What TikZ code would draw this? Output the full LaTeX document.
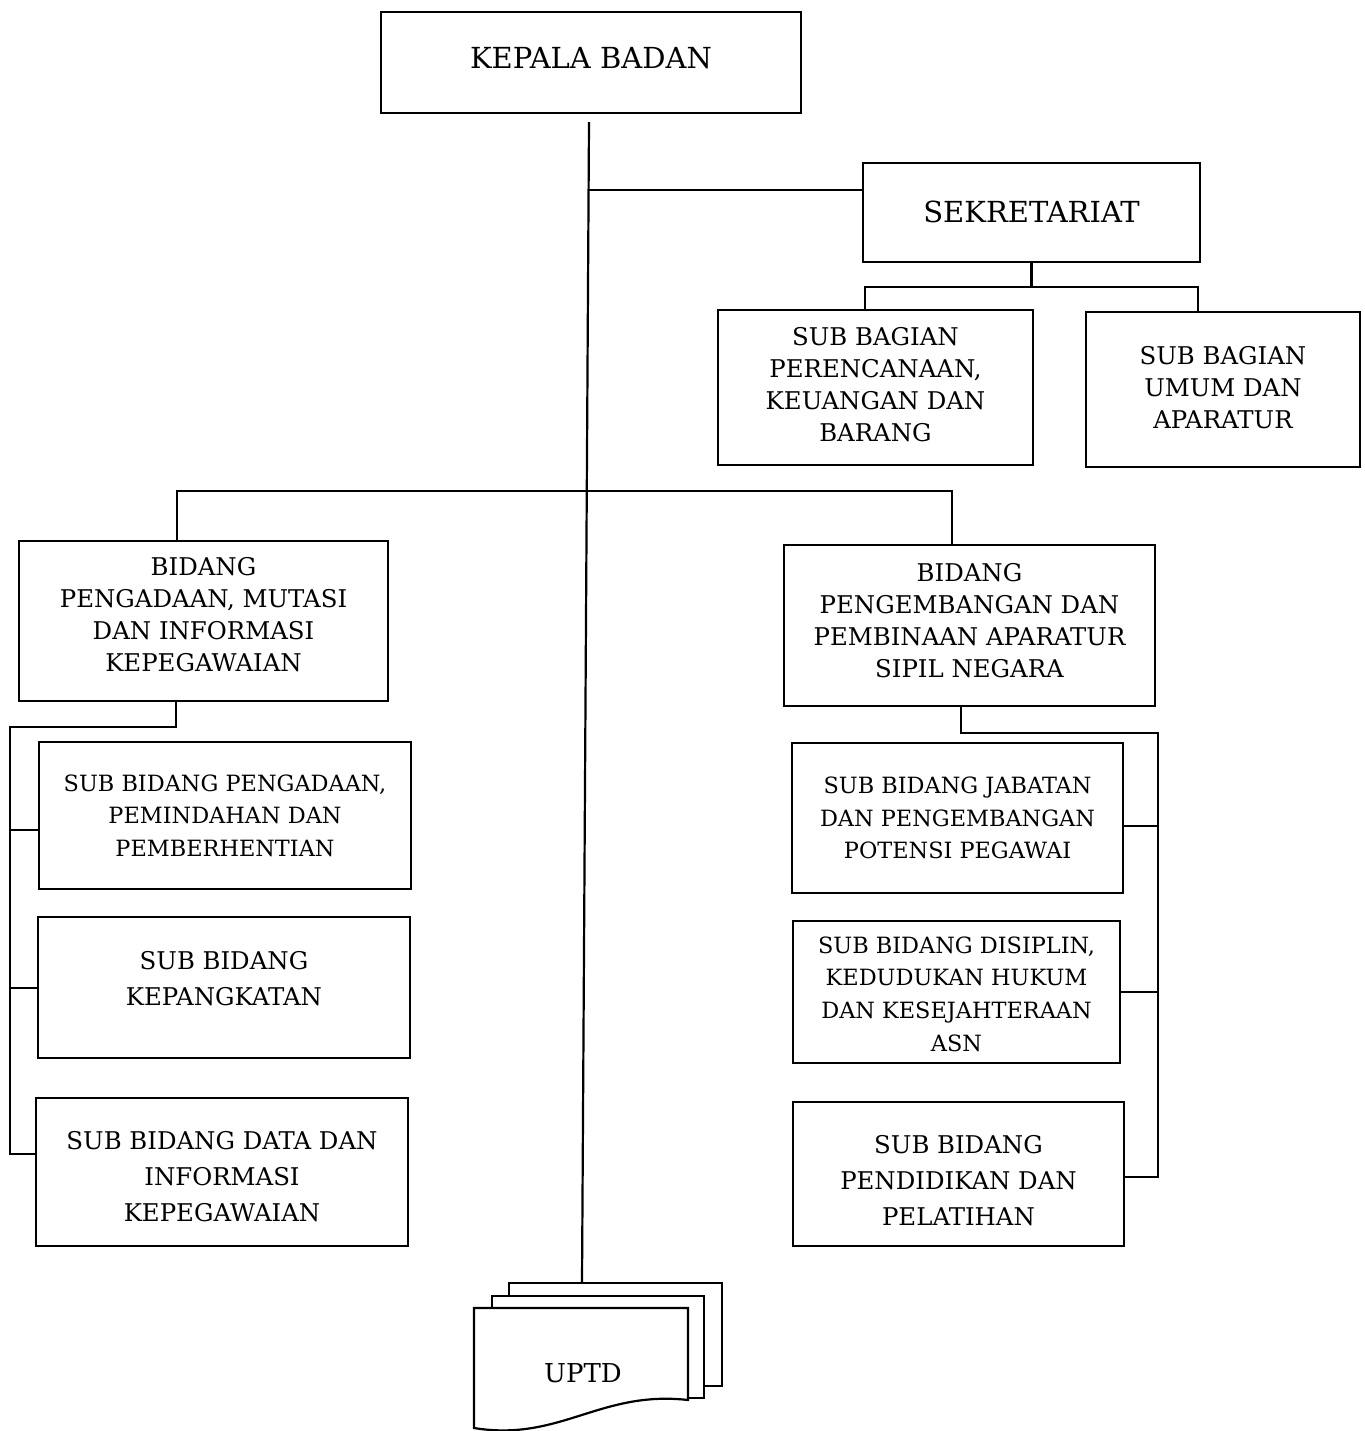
\documentclass[tikz,border=0pt]{standalone}
\usepackage{fontspec}
\setmainfont{DejaVu Serif}
\begin{document}
\begin{tikzpicture}[x=0.5pt,y=-0.5pt,
  line width=1.1pt,
  box/.style={draw, fill=white, inner sep=0pt},
  txt/.style={align=center, inner sep=0pt},
  big/.style={txt,font=\fontsize{14.5}{18}\selectfont},
  mid/.style={txt,font=\fontsize{12.2}{16}\selectfont},
  midw/.style={txt,font=\fontsize{12.2}{18}\selectfont},
  sml/.style={txt,font=\fontsize{11.2}{16.3}\selectfont}]
\useasboundingbox (0,0) rectangle (1365,1431);
% boxes
\node[box,minimum width=210pt,minimum height=50.5pt] (kepala) at (591,62.5) {};
\node[big] (kepalat) at ([yshift=2pt]kepala.center) {KEPALA BADAN};
\node[box,minimum width=168.5pt,minimum height=49.5pt] (sek) at (1031.5,212.5) {};
\node[big] (sekt) at ([yshift=0.5pt]sek.center) {SEKRETARIAT};
\node[box,minimum width=157.5pt,minimum height=77.5pt] (sb1) at (875.5,387.5) {};
\node[mid] (sb1t) at ([yshift=1.5pt]sb1.center) {SUB BAGIAN\\PERENCANAAN,\\KEUANGAN DAN\\BARANG};
\node[box,minimum width=137pt,minimum height=77.5pt] (sb2) at (1223,389.5) {};
\node[mid] (sb2t) at ([yshift=1pt]sb2.center) {SUB BAGIAN\\UMUM DAN\\APARATUR};
\node[box,minimum width=184.5pt,minimum height=80pt] (bid1) at (203.5,621) {};
\node[mid] (bid1t) at ([yshift=3pt]bid1.center) {BIDANG\\PENGADAAN, MUTASI\\DAN INFORMASI\\KEPEGAWAIAN};
\node[box,minimum width=185.5pt,minimum height=80.5pt] (bid2) at (969.5,625.5) {};
\node[mid] (bid2t) at ([yshift=2.5pt]bid2.center) {BIDANG\\PENGEMBANGAN DAN\\PEMBINAAN APARATUR\\SIPIL NEGARA};
\node[box,minimum width=186pt,minimum height=73.5pt] (l1) at (225,815.5) {};
\node[sml] (l1t) at (l1.center) {SUB BIDANG PENGADAAN,\\PEMINDAHAN DAN\\PEMBERHENTIAN};
\node[box,minimum width=186pt,minimum height=70.5pt] (l2) at (224,987.5) {};
\node[midw] (l2t) at ([yshift=4.5pt]l2.center) {SUB BIDANG\\KEPANGKATAN};
\node[box,minimum width=186pt,minimum height=74pt] (l3) at (222,1172) {};
\node[midw] (l3t) at ([yshift=-2.5pt]l3.center) {SUB BIDANG DATA DAN\\INFORMASI\\KEPEGAWAIAN};
\node[box,minimum width=165.5pt,minimum height=75pt] (r1) at (957.5,818) {};
\node[sml] (r1t) at (r1.center) {SUB BIDANG JABATAN\\DAN PENGEMBANGAN\\POTENSI PEGAWAI};
\node[box,minimum width=163.5pt,minimum height=71pt] (r2) at (956.5,992) {};
\node[sml] (r2t) at ([yshift=-1pt]r2.center) {SUB BIDANG DISIPLIN,\\KEDUDUKAN HUKUM\\DAN KESEJAHTERAAN\\ASN};
\node[box,minimum width=165.5pt,minimum height=72pt] (r3) at (958.5,1174) {};
\node[midw] (r3t) at ([yshift=-3.5pt]r3.center) {SUB BIDANG\\PENDIDIKAN DAN\\PELATIHAN};
% UPTD stacked documents
\node[box,minimum width=106.5pt,minimum height=51.5pt] (uptdback) at (615.5,1334.5) {};
\node[box,minimum width=106pt,minimum height=51pt] (uptdmid) at (598,1347) {};
\draw[fill=white] (474,1308) -- (688,1308) -- (688,1400)
  .. controls (600,1390) and (560,1442) .. (474,1428) -- cycle;
\node[txt,font=\fontsize{13}{16}\selectfont] (uptd) at (583,1373) {UPTD};
% main spine
\coordinate (top) at (589,122);
\coordinate (bot) at (582,1283);
\draw (top) -- (bot);
% sekretariat
\coordinate (j1) at (589,190);
\draw (j1) -- (j1 -| sek.west);
\coordinate (s1) at (865,287);
\coordinate (s2) at (1198,287);
\draw (sek.south) -- (sek.south |- s1);
\draw (s1 |- sb1.north) -- (s1) -- (s2) -- (s2 |- sb2.north);
% bidang
\coordinate (b1) at (177,491);
\coordinate (b2) at (952,491);
\draw (b1 |- bid1.north) -- (b1) -- (b2) -- (b2 |- bid2.north);
% left branch
\coordinate (lA) at (176,727);
\coordinate (lB) at (10,727);
\coordinate (lC) at (10,1154);
\coordinate (lS1) at (10,830);
\coordinate (lS2) at (10,988);
\draw (lA |- bid1.south) -- (lA) -- (lB) -- (lC) -- (lC -| l3.west);
\draw (lS1) -- (lS1 -| l1.west);
\draw (lS2) -- (lS2 -| l2.west);
% right branch
\coordinate (rA) at (961,733);
\coordinate (rB) at (1158,733);
\coordinate (rC) at (1158,1177);
\coordinate (rS1) at (1158,826);
\coordinate (rS2) at (1158,992);
\draw (rA |- bid2.south) -- (rA) -- (rB) -- (rC) -- (rC -| r3.east);
\draw (rS1) -- (rS1 -| r1.east);
\draw (rS2) -- (rS2 -| r2.east);
\end{tikzpicture}
\end{document}
